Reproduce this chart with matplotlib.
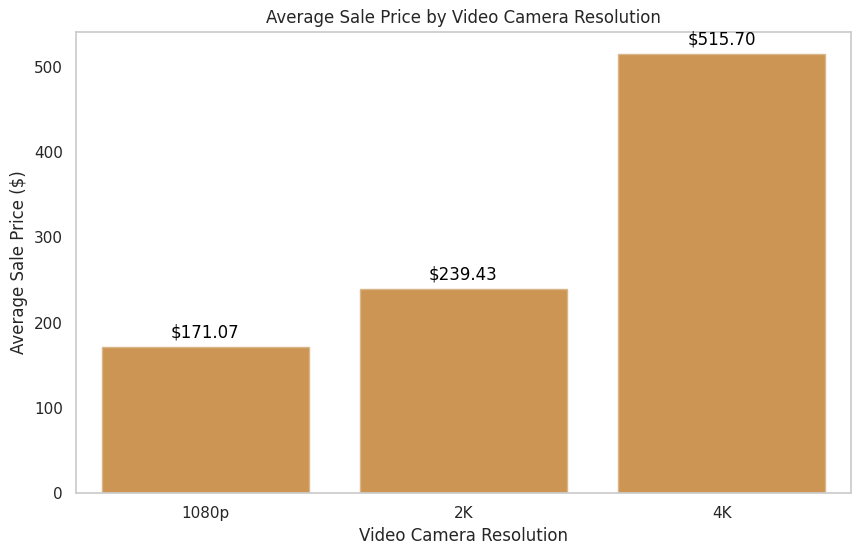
import matplotlib
matplotlib.use("Agg")
import matplotlib.pyplot as plt
import seaborn as sns

resolutions = ["1080p", "2K", "4K"]
avg_prices = [171.07, 239.43, 515.70]

sns.set_theme(style="whitegrid")
fig, ax = plt.subplots(figsize=(8.6, 5.56), dpi=100)
fig.subplots_adjust(left=0.0884, right=0.9895, top=0.943, bottom=0.1133)

bars = ax.bar(resolutions, avg_prices, width=0.8, color="#CD9553",
              edgecolor="#D9B58A", linewidth=1)
ax.grid(False)
for b, v in zip(bars, avg_prices):
    ax.annotate(f"${v:.2f}", xy=(b.get_x() + b.get_width() / 2, v),
                xytext=(0, 4), textcoords="offset points",
                ha="center", va="bottom", fontsize=12, color="black")

ax.set_xlim(-0.5, 2.5)
ax.set_ylim(0, max(avg_prices) * 1.05)
ax.set_title("Average Sale Price by Video Camera Resolution", fontsize=12)
ax.set_xlabel("Video Camera Resolution", fontsize=12)
ax.set_ylabel("Average Sale Price ($)", fontsize=12)
ax.tick_params(labelsize=11)

fig.savefig("out.png", dpi=100, facecolor="white")
